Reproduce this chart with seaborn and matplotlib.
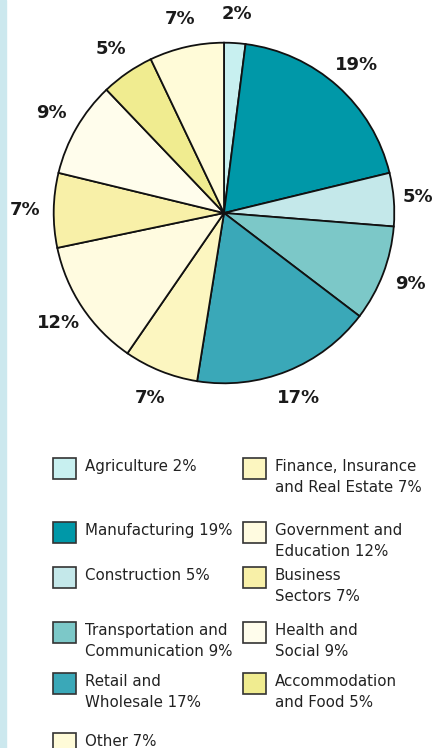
import matplotlib
matplotlib.use("Agg")
import matplotlib.pyplot as plt
from matplotlib.patches import Rectangle
import seaborn as sns

# ---------------------------------------------------------------------------
# Data
# ---------------------------------------------------------------------------
sectors = [
    "Agriculture", "Manufacturing", "Construction",
    "Transportation and\nCommunication", "Retail and\nWholesale",
    "Finance, Insurance\nand Real Estate", "Government and\nEducation",
    "Business\nSectors", "Health and\nSocial", "Accommodation\nand Food",
    "Other",
]
shares = [2, 19, 5, 9, 17, 7, 12, 7, 9, 5, 7]
colors = [
    "#c8f0f0", "#0098a8", "#c4e8ea", "#7cc8c8", "#3aa8b8",
    "#fcf6c0", "#fffbe0", "#f8f0a8", "#fffdec", "#f0ec90",
    "#fffbd8",
]

W, H = 435, 748

sns.set_theme(style="white")
plt.rcParams["font.family"] = ["DejaVu Sans"]

fig = plt.figure(figsize=(W / 100, H / 100), dpi=100)
fig.patch.set_facecolor("white")

# thin blue strip on the left edge
fig.patches.append(Rectangle((0, 0), 6 / W, 1, transform=fig.transFigure,
                             color="#cce8ee", zorder=0))

# ---------------------------------------------------------------------------
# Pie
# ---------------------------------------------------------------------------
cx, cy, r = 224, 213, 172
lim = 1.01
ax = fig.add_axes([(cx - r) / W, (H - cy - r) / H, 2 * r / W, 2 * r / H])
wedges, _, pcts = ax.pie(
    shares, colors=colors, startangle=90, counterclock=False,
    wedgeprops=dict(edgecolor="#111111", linewidth=1.3),
    autopct=lambda p: f"{p:.0f}%", pctdistance=1.17,
    textprops=dict(fontsize=13, fontweight="bold", color="#1a1a1a"),
)
ax.set_xlim(-lim, lim)
ax.set_ylim(-lim, lim)
ax.set_aspect("equal")
ax.axis("off")

# keep the outer labels inside the canvas
fig.canvas.draw()
px_per_unit = r / lim
for t in pcts:
    bb = t.get_window_extent()
    if bb.x1 > W - 2:
        x, y = t.get_position()
        t.set_x(x - (bb.x1 - (W - 2)) / px_per_unit)

# ---------------------------------------------------------------------------
# Legend (two columns, drawn in pixel space)
# ---------------------------------------------------------------------------
lax = fig.add_axes([0, 0, 1, 1])
lax.set_xlim(0, W)
lax.set_ylim(H, 0)
lax.axis("off")

row_tops = [458, 522, 567, 622, 673, 733]
slots = [(0, i) for i in range(5)] + [(1, i) for i in range(5)] + [(0, 5)]
col_x = [53, 243]

for (col, row), name, share, color in zip(slots, sectors, shares, colors):
    x0 = col_x[col]
    y0 = row_tops[row]
    lax.add_patch(Rectangle((x0, y0), 23, 21, facecolor=color,
                            edgecolor="#333333", linewidth=1.2))
    lax.text(x0 + 32, y0 + 1, f"{name} {share}%", ha="left", va="top",
             fontsize=10.8, color="#222222", linespacing=1.5)

fig.savefig("out.png", dpi=100)
